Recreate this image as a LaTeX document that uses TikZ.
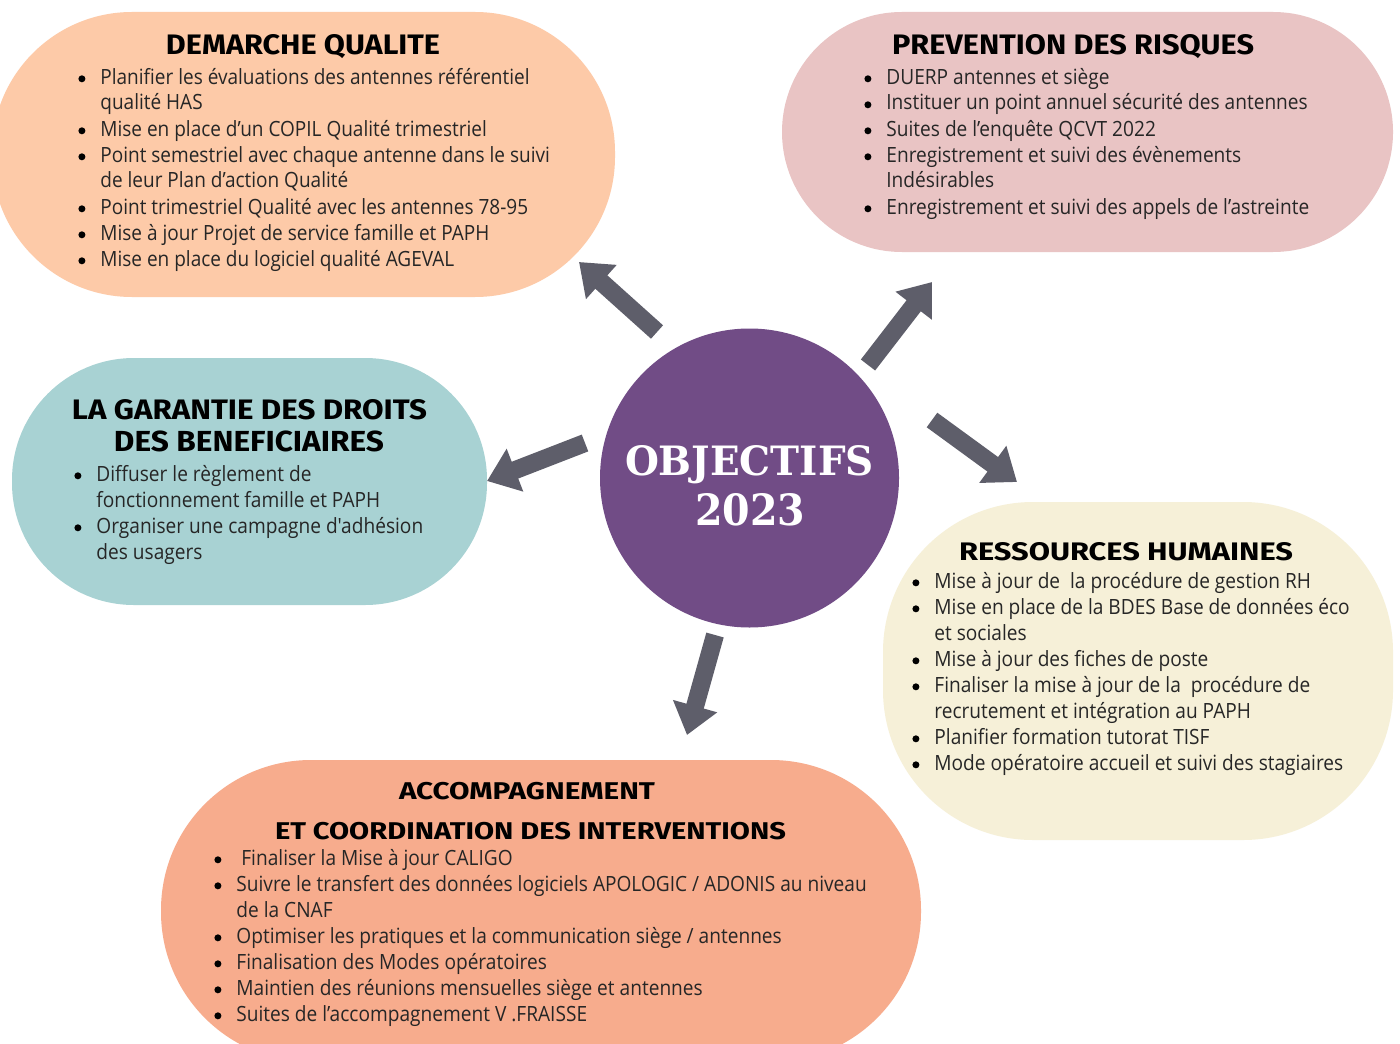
\documentclass[tikz,border=0pt]{standalone}
\usepackage{fontspec}
\usepackage{graphicx}
\usetikzlibrary{arrows.meta}
\setmainfont{Open Sans}
\newfontfamily\headfont{Fira Sans}
\newfontfamily\titlefont{DejaVu Serif}
\newfontfamily\bodyDQ[FakeStretch=0.905]{Open Sans}
\newfontfamily\bodyPR[FakeStretch=0.91]{Open Sans}
\newfontfamily\bodyGA[FakeStretch=0.91]{Open Sans}
\newfontfamily\bodyRH[FakeStretch=0.91]{Open Sans}
\newfontfamily\bodyAC[FakeStretch=0.91]{Open Sans}
\definecolor{cDQ}{HTML}{FDCAA8}
\definecolor{cPR}{HTML}{E9C4C4}
\definecolor{cGA}{HTML}{A8D2D3}
\definecolor{cRH}{HTML}{F6F0D8}
\definecolor{cAC}{HTML}{F7AC8D}
\definecolor{cOBJ}{HTML}{714C86}
\definecolor{arrc}{HTML}{5E5E6A}
\definecolor{txt}{HTML}{262626}
\newcommand\dotb{\tikz[baseline=0pt]\fill[black] (0pt,2.6pt) circle (1.75pt);}
\newcommand\bulit{\leavevmode\llap{\makebox[18.5pt]{\dotb}}}
\newcommand\hdg[3]{\resizebox{#1}{#2}{\headfont\bfseries #3}}
\begin{document}
\begin{tikzpicture}[x=0.5pt,y=-0.5pt,
  body/.style={anchor=base west, inner sep=0pt, align=left, text=txt},
  head/.style={anchor=base, inner sep=0pt, text=black},
  arr/.style={line width=9pt, draw=arrc, -{Triangle[length=15pt 0 0,width=22pt 0 0]}}]
\fill[white] (0,0) rectangle (1400,1043);
\useasboundingbox (0,0) rectangle (1400,1043);
\clip (0,0) rectangle (1400,1043);
% backgrounds
\fill[cDQ, rounded corners=70pt] (-8,12) rectangle (615,297);
\fill[cPR, rounded corners=60pt] (782,12) rectangle (1393,252);
\fill[cGA, rounded corners=61pt] (12,358) rectangle (487,605);
\fill[cRH, rounded corners=75pt] (883,502) rectangle (1393,840);
\fill[cAC, rounded corners=75pt] (161,760) rectangle (921,1062);
% centre
\node[circle, fill=cOBJ, minimum size=149.5pt, inner sep=0pt] (obj) at (749.5,478) {};
\node[head, text=white] (objt1) at (749.5,475) {\resizebox{124.5pt}{15pt}{\titlefont\bfseries OBJECTIFS}};
\node[head, text=white] (objt2) at (750,525) {\resizebox{55pt}{16pt}{\titlefont\bfseries 2023}};
% headings
\node[head] (hDQ) at (303,55) {\hdg{137pt}{10pt}{DEMARCHE QUALITE}};
\node[head] (hPR) at (1073,55) {\hdg{181pt}{10pt}{PREVENTION DES RISQUES}};
\node[head] (hGA1) at (249.5,419) {\hdg{177.5pt}{10pt}{LA GARANTIE DES DROITS}};
\node[head] (hGA2) at (249,451) {\hdg{135pt}{10.3pt}{DES BENEFICIAIRES}};
\node[head] (hRH) at (1126,560) {\hdg{167pt}{9pt}{RESSOURCES HUMAINES}};
\node[head] (hAC1) at (527,799) {\hdg{128pt}{8.6pt}{ACCOMPAGNEMENT}};
\node[head] (hAC2) at (530.5,839) {\hdg{255.5pt}{8.6pt}{ET COORDINATION DES INTERVENTIONS}};
% bodies (anchor base = baseline of the last line)
\node[body, font=\bodyDQ\fontsize{10.5}{13}\selectfont] (bDQ) at (100,266) {%
\bulit Planifier les évaluations des antennes référentiel\\
qualité HAS\\
\bulit Mise en place d’un COPIL Qualité trimestriel\\
\bulit Point semestriel avec chaque antenne dans le suivi\\
de leur Plan d’action Qualité\\
\bulit Point trimestriel Qualité avec les antennes 78-95\\
\bulit Mise à jour Projet de service famille et PAPH\\
\bulit Mise en place du logiciel qualité AGEVAL};
\node[body, font=\bodyPR\fontsize{10.5}{13}\selectfont] (bPR) at (886,214) {%
\bulit DUERP antennes et siège\\
\bulit Instituer un point annuel sécurité des antennes\\
\bulit Suites de l’enquête QCVT 2022\\
\bulit Enregistrement et suivi des évènements\\
Indésirables\\
\bulit Enregistrement et suivi des appels de l’astreinte};
\node[body, font=\bodyGA\fontsize{10.5}{13}\selectfont] (bGA) at (96,559) {%
\bulit Diffuser le règlement de\\
fonctionnement famille et PAPH\\
\bulit Organiser une campagne d'adhésion\\
des usagers};
\node[body, font=\bodyRH\fontsize{10.5}{13}\selectfont] (bRH) at (934,770) {%
\bulit Mise à jour de\ \ la procédure de gestion RH\\
\bulit Mise en place de la BDES Base de données éco\\
et sociales\\
\bulit Mise à jour des fiches de poste\\
\bulit Finaliser la mise à jour de la\ \ procédure de\\
recrutement et intégration au PAPH\\
\bulit Planifier formation tutorat TISF\\
\bulit Mode opératoire accueil et suivi des stagiaires};
\node[body, font=\bodyAC\fontsize{10.5}{13}\selectfont] (bAC) at (236,1021) {%
\bulit\ Finaliser la Mise à jour CALIGO\\
\bulit Suivre le transfert des données logiciels APOLOGIC / ADONIS au niveau\\
de la CNAF\\
\bulit Optimiser les pratiques et la communication siège / antennes\\
\bulit Finalisation des Modes opératoires\\
\bulit Maintien des réunions mensuelles siège et antennes\\
\bulit Suites de l’accompagnement V .FRAISSE};
% arrows
\coordinate (a1s) at (657,332); \coordinate (a1e) at (579,262);
\coordinate (a2s) at (868,365); \coordinate (a2e) at (932,282);
\coordinate (a3s) at (585,443); \coordinate (a3e) at (487,481);
\coordinate (a4s) at (932,420); \coordinate (a4e) at (1017,482);
\coordinate (a5s) at (715,635); \coordinate (a5e) at (687,735);
\draw[arr] (a1s) -- (a1e);
\draw[arr] (a2s) -- (a2e);
\draw[arr] (a3s) -- (a3e);
\draw[arr] (a4s) -- (a4e);
\draw[arr] (a5s) -- (a5e);
\end{tikzpicture}
\end{document}
